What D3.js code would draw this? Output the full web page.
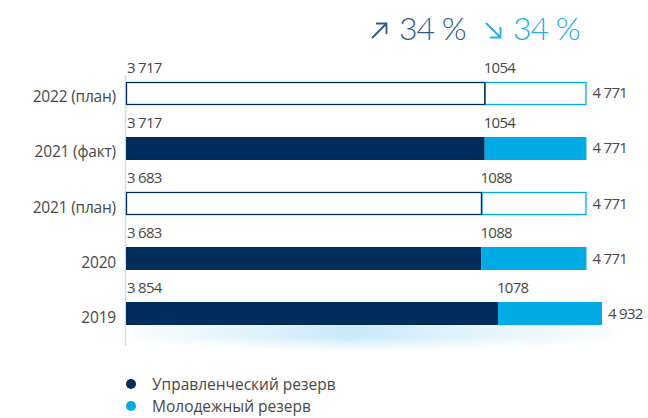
<!DOCTYPE html>
<html>
<head>
<meta charset="utf-8">
<script src="https://cdn.jsdelivr.net/npm/d3@7"></script>
<style>
  html, body { margin: 0; padding: 0; background: #fff; }
  svg { display: block; font-family: "Open Sans", Lato, sans-serif; }
</style>
</head>
<body>
<svg id="chart" width="648" height="418"></svg>
<script>
// Кадровый резерв: управленческий и молодежный, чел.
const categories = ["2022 (план)", "2021 (факт)", "2021 (план)", "2020", "2019"];
const managerial = [3717, 3717, 3683, 3683, 3854];
const youth      = [1054, 1054, 1088, 1088, 1078];
const planned    = [true, false, true, false, false];
const seriesNames = ["Управленческий резерв", "Молодежный резерв"];
const growth = ["34 %", "34 %"];
const growthDir = ["up", "down"];

const DARK = "#002d5c", LIGHT = "#00aae4", TEXT = "#484848";

const svg = d3.select("#chart");
const x0 = 126;
const x = d3.scaleLinear().domain([0, 4932]).range([x0, 602]);
const y = d3.scaleBand().domain(categories).range([82, 325]).paddingInner(0.582).paddingOuter(0);

const fmt = v => v >= 2000 ? d3.format(",")(v).replace(/,/g, "\u00a0") : String(v);

// soft glow under the lowest bar
const defs = svg.append("defs");
const blur = defs.append("filter").attr("id", "glow").attr("x", "-20%").attr("y", "-100%").attr("width", "140%").attr("height", "300%");
blur.append("feGaussianBlur").attr("stdDeviation", 5);
const grad = defs.append("linearGradient").attr("id", "glowGrad").attr("x1", 0).attr("x2", 1);
grad.append("stop").attr("offset", 0).attr("stop-color", "#e6f5fc").attr("stop-opacity", 0.5);
grad.append("stop").attr("offset", 0.45).attr("stop-color", "#c6e8f8");
grad.append("stop").attr("offset", 1).attr("stop-color", "#e6f5fc").attr("stop-opacity", 0.4);
const last = categories[categories.length - 1];
svg.append("ellipse")
  .attr("cx", (x0 + x(4932)) / 2 + 10)
  .attr("cy", y(last) + y.bandwidth() + 8)
  .attr("rx", (x(4932) - x0) / 2 + 8)
  .attr("ry", 11)
  .attr("fill", "url(#glowGrad)")
  .attr("filter", "url(#glow)");

// axis line
svg.append("line")
  .attr("x1", x0 - 0.5).attr("x2", x0 - 0.5)
  .attr("y1", 75).attr("y2", 346)
  .attr("stroke", "#cfdde9").attr("stroke-width", 1.5);

// category labels
svg.append("g").selectAll("text").data(categories).join("text")
  .attr("x", 116)
  .attr("y", d => y(d) + y.bandwidth() / 2 + 9)
  .attr("text-anchor", "end")
  .attr("font-size", 15.5)
  .attr("fill", TEXT)
  .attr("letter-spacing", "-0.2")
  .text(d => d);

const rows = categories.map((c, i) => ({ c, m: managerial[i], yv: youth[i], plan: planned[i] }));
const g = svg.append("g");
const valueText = (sel) => sel.attr("font-size", 15).attr("fill", TEXT).attr("letter-spacing", "-0.7");

rows.forEach(r => {
  const top = y(r.c), h = y.bandwidth();
  const xm = x(r.m), xt = x(r.m + r.yv);
  if (r.plan) {
    g.append("rect").attr("x", xm + 0.5).attr("y", top + 0.5)
      .attr("width", xt - xm - 1).attr("height", h - 1)
      .attr("fill", "#fff").attr("stroke", LIGHT).attr("stroke-width", 1.3);
    g.append("rect").attr("x", x0 + 0.5).attr("y", top + 0.5)
      .attr("width", xm - x0 - 0.5).attr("height", h - 1)
      .attr("fill", "#fff").attr("stroke", DARK).attr("stroke-width", 1.3);
  } else {
    g.append("rect").attr("x", x0).attr("y", top)
      .attr("width", xm - x0).attr("height", h).attr("fill", DARK);
    g.append("rect").attr("x", xm).attr("y", top)
      .attr("width", xt - xm).attr("height", h).attr("fill", LIGHT);
  }
  g.append("text").attr("x", x0 + 1).attr("y", top - 9.5).call(valueText).text(fmt(r.m));
  g.append("text").attr("x", xm - 1).attr("y", top - 9.5).call(valueText).text(fmt(r.yv));
  g.append("text").attr("x", xt + 6).attr("y", top + h / 2 + 5).call(valueText).text(fmt(r.m + r.yv));
});

// growth indicators
const head = svg.append("g");
[[370, growthDir[0], growth[0], "#2c5b8b"], [484, growthDir[1], growth[1], "#22ade3"]].forEach(([hx, dir, txt, col]) => {
  const a = head.append("g").attr("transform", `translate(${hx},22)`)
    .attr("fill", "none").attr("stroke", col).attr("stroke-width", 1.8);
  if (dir === "up") {
    a.append("path").attr("d", "M2,16 L16,2 M6,1.5 H16.5 V12");
  } else {
    a.append("path").attr("d", "M2,1 L16,15 M16.5,5 V15.5 H6");
  }
  head.append("text").attr("x", hx + 29).attr("y", 40)
    .attr("font-family", "Lato, sans-serif")
    .attr("font-size", 32).attr("fill", col).attr("font-weight", 300)
    .attr("letter-spacing", "-1").text(txt);
});

// legend
const legend = svg.append("g");
seriesNames.forEach((name, i) => {
  const ly = 384 + i * 22;
  legend.append("circle").attr("cx", 131).attr("cy", ly).attr("r", 5).attr("fill", i === 0 ? DARK : LIGHT);
  legend.append("text").attr("x", 152).attr("y", ly + 5.5)
    .attr("font-size", 15.5).attr("fill", TEXT).text(name);
});
</script>
</body>
</html>
